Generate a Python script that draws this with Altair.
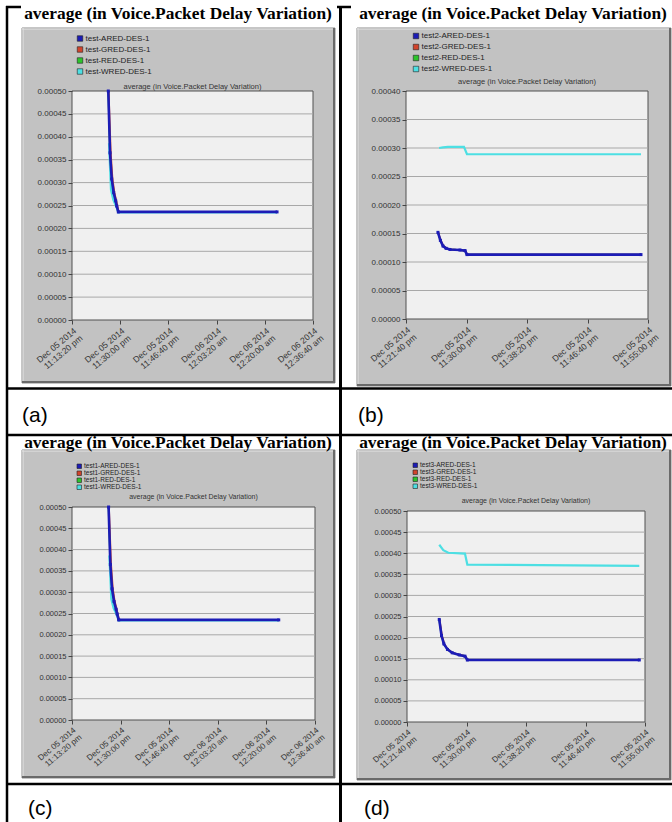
import altair as alt
import pandas as pd

W, H = 672, 822
SANS = "Liberation Sans"
SERIF = "Liberation Serif"

# ---------------- data ----------------
METHODS = ["ARED", "GRED", "RED", "WRED"]
COLORS = ["#1c1cb6", "#d2442c", "#2cc42c", "#4ddfe3"]
LINE_WIDTH = {"ARED": 2.6, "GRED": 1.8, "RED": 1.8, "WRED": 2.2}
DRAW_ORDER = ["WRED", "RED", "GRED", "ARED"]
MAIN_TITLE = "average (in Voice.Packet Delay Variation)"
SUB_TITLE = "average (in Voice.Packet Delay Variation)"
PANEL_LABELS = ["(a)", "(b)", "(c)", "(d)"]
PREFIXES = ["test", "test2", "test1", "test3"]

Y_TICKS_50 = [0.0, 0.00005, 0.0001, 0.00015, 0.0002, 0.00025, 0.0003, 0.00035, 0.0004, 0.00045, 0.0005]
Y_TICKS_40 = [0.0, 0.00005, 0.0001, 0.00015, 0.0002, 0.00025, 0.0003, 0.00035, 0.0004]
X_TICKS_LONG = ["23:13:20", "23:30:00", "23:46:40", "00:03:20", "00:20:00", "00:36:40"]
X_TICKS_SHORT = ["23:21:40", "23:30:00", "23:38:20", "23:46:40", "23:55:00"]

# panel (a)
a_t_ARED = ["23:25:53", "23:26:29", "23:27:04", "23:27:45", "23:28:27", "23:28:48", "23:29:21", "00:24:14"]
a_v_ARED = [0.000500, 0.000365, 0.000308, 0.000278, 0.000260, 0.000249, 0.000236, 0.000236]
a_t_GRED = ["23:26:00", "23:26:44", "23:27:20", "23:28:00", "23:28:40", "23:29:00", "23:29:30", "00:24:14"]
a_v_GRED = [0.000500, 0.000365, 0.000308, 0.000278, 0.000260, 0.000249, 0.000236, 0.000236]
a_t_RED = ["23:25:53", "23:26:29", "23:27:04", "23:27:45", "23:28:27", "23:28:48", "23:29:21", "00:24:14"]
a_v_RED = [0.000500, 0.000365, 0.000308, 0.000278, 0.000260, 0.000249, 0.000236, 0.000236]
a_t_WRED = ["23:26:08", "23:26:49", "23:27:37", "23:28:48", "23:29:21", "00:24:14"]
a_v_WRED = [0.000386, 0.000284, 0.000262, 0.000245, 0.000235, 0.000235]

# panel (b)
b_t_ARED = ["23:26:04", "23:26:24", "23:26:46", "23:27:11", "23:27:44", "23:29:06", "23:29:48", "23:30:04", "23:54:02"]
b_v_ARED = [0.000152, 0.000138, 0.000128, 0.000124, 0.000122, 0.000121, 0.000120, 0.000113, 0.000113]
b_t_GRED = ["23:26:06", "23:26:27", "23:26:49", "23:27:14", "23:27:47", "23:29:08", "23:29:50", "23:30:06", "23:54:02"]
b_v_GRED = [0.000152, 0.000138, 0.000128, 0.000124, 0.000122, 0.000121, 0.000120, 0.000113, 0.000113]
b_t_RED = ["23:26:04", "23:26:24", "23:26:46", "23:27:11", "23:27:44", "23:29:06", "23:29:48", "23:30:04", "23:54:02"]
b_v_RED = [0.000152, 0.000138, 0.000128, 0.000124, 0.000122, 0.000121, 0.000120, 0.000113, 0.000113]
b_t_WRED = ["23:26:13", "23:26:46", "23:27:27", "23:29:39", "23:30:04", "23:54:02"]
b_v_WRED = [0.000300, 0.000301, 0.000302, 0.000302, 0.000289, 0.000289]

# panel (c)
c_t_ARED = ["23:25:53", "23:26:29", "23:27:04", "23:27:45", "23:28:27", "23:28:48", "23:29:21", "00:24:14"]
c_v_ARED = [0.000500, 0.000365, 0.000308, 0.000278, 0.000260, 0.000249, 0.000235, 0.000235]
c_t_GRED = ["23:26:00", "23:26:44", "23:27:20", "23:28:00", "23:28:40", "23:29:00", "23:29:30", "00:24:14"]
c_v_GRED = [0.000500, 0.000365, 0.000308, 0.000278, 0.000260, 0.000249, 0.000235, 0.000235]
c_t_RED = ["23:25:53", "23:26:29", "23:27:04", "23:27:45", "23:28:27", "23:28:48", "23:29:21", "00:24:14"]
c_v_RED = [0.000500, 0.000365, 0.000308, 0.000278, 0.000260, 0.000249, 0.000235, 0.000235]
c_t_WRED = ["23:26:08", "23:26:49", "23:27:37", "23:28:48", "23:29:21", "00:24:14"]
c_v_WRED = [0.000386, 0.000284, 0.000262, 0.000245, 0.000234, 0.000234]

# panel (d)
d_t_ARED = ["23:26:11", "23:26:30", "23:26:50", "23:27:20", "23:28:00", "23:29:00", "23:29:47", "23:30:07", "23:54:12"]
d_v_ARED = [0.000243, 0.000205, 0.000185, 0.000172, 0.000164, 0.000159, 0.000156, 0.000147, 0.000147]
d_t_GRED = ["23:26:13", "23:26:33", "23:26:53", "23:27:23", "23:28:03", "23:29:02", "23:29:49", "23:30:09", "23:54:12"]
d_v_GRED = [0.000243, 0.000205, 0.000185, 0.000172, 0.000164, 0.000159, 0.000156, 0.000147, 0.000147]
d_t_RED = ["23:26:11", "23:26:30", "23:26:50", "23:27:20", "23:28:00", "23:29:00", "23:29:47", "23:30:07", "23:54:12"]
d_v_RED = [0.000243, 0.000205, 0.000185, 0.000172, 0.000164, 0.000159, 0.000156, 0.000147, 0.000147]
d_t_WRED = ["23:26:11", "23:26:45", "23:27:27", "23:29:47", "23:30:07", "23:54:12"]
d_v_WRED = [0.000420, 0.000407, 0.000401, 0.000399, 0.000373, 0.000370]

SERIES = [
    ({"ARED": a_t_ARED, "GRED": a_t_GRED, "RED": a_t_RED, "WRED": a_t_WRED},
     {"ARED": a_v_ARED, "GRED": a_v_GRED, "RED": a_v_RED, "WRED": a_v_WRED}),
    ({"ARED": b_t_ARED, "GRED": b_t_GRED, "RED": b_t_RED, "WRED": b_t_WRED},
     {"ARED": b_v_ARED, "GRED": b_v_GRED, "RED": b_v_RED, "WRED": b_v_WRED}),
    ({"ARED": c_t_ARED, "GRED": c_t_GRED, "RED": c_t_RED, "WRED": c_t_WRED},
     {"ARED": c_v_ARED, "GRED": c_v_GRED, "RED": c_v_RED, "WRED": c_v_WRED}),
    ({"ARED": d_t_ARED, "GRED": d_t_GRED, "RED": d_t_RED, "WRED": d_t_WRED},
     {"ARED": d_v_ARED, "GRED": d_v_GRED, "RED": d_v_RED, "WRED": d_v_WRED}),
]
X_TICKS = [X_TICKS_LONG, X_TICKS_SHORT, X_TICKS_LONG, X_TICKS_SHORT]
Y_TICKS = [Y_TICKS_50, Y_TICKS_40, Y_TICKS_50, Y_TICKS_50]

# ---------------- layout (pixels) ----------------
LAYOUT = [
    dict(x0=72, x1=313, yt=91, yb=320, box=(22, 28, 335, 383), tx=178, ty=18.5,
         lx=76, ly=34.5, lfs=8, lrow=3, lsym=30, sub_y=87, fs=8, xfs=8.6, lab=(22, 416)),
    dict(x0=406, x1=648, yt=91, yb=319, box=(357, 28, 671, 386), tx=513, ty=18.5,
         lx=412, ly=32, lfs=8, lrow=3, lsym=30, sub_y=82, fs=8, xfs=8.6, lab=(358, 416)),
    dict(x0=72, x1=315, yt=507, yb=720, box=(22, 450, 335, 778), tx=178, ty=448,
         lx=76, ly=463, lfs=6.5, lrow=-1.5, lsym=20, sub_y=497, fs=7.5, xfs=8.2, lab=(28, 809)),
    dict(x0=407, x1=645, yt=511, yb=722, box=(357, 450, 671, 780), tx=513, ty=448,
         lx=412, ly=462, lfs=6.5, lrow=-1.2, lsym=20, sub_y=501, fs=7.5, xfs=8.2, lab=(364, 809)),
]


def stamp(clock):
    day = "2014-12-06" if clock < "12" else "2014-12-05"
    return f"{day}T{clock}"


def dtobj(clock):
    t = pd.Timestamp(stamp(clock))
    return alt.DateTime(year=t.year, month=t.month, date=t.day,
                        hours=t.hour, minutes=t.minute, seconds=t.second)


ONE = pd.DataFrame({"k": [0]})


def rect(x, y, x2, y2, **kw):
    return alt.Chart(ONE).mark_rect(**kw).encode(
        x=alt.value(x), y=alt.value(y), x2=alt.value(x2), y2=alt.value(y2))


def hline(y, x, x2, **kw):
    return alt.Chart(ONE).mark_rule(**kw).encode(x=alt.value(x), x2=alt.value(x2), y=alt.value(y))


def vline(x, y, y2, **kw):
    return alt.Chart(ONE).mark_rule(**kw).encode(x=alt.value(x), y=alt.value(y), y2=alt.value(y2))


def label(x, y, s, **kw):
    return alt.Chart(ONE).mark_text(text=s, **kw).encode(x=alt.value(x), y=alt.value(y))


def make_panel(i):
    L = LAYOUT[i]
    times, vals = SERIES[i]
    names = [f"{PREFIXES[i]}-{m}-DES-1" for m in METHODS]
    rows = []
    for m, name in zip(METHODS, names):
        for t, v in zip(times[m], vals[m]):
            rows.append({"t": stamp(t), "v": v, "s": name, "m": m})
    df = pd.DataFrame(rows)
    xt = X_TICKS[i]
    yt = Y_TICKS[i]
    ymax = yt[-1]

    xsc = alt.Scale(domain=[dtobj(xt[0]), dtobj(xt[-1])], range=[L["x0"], L["x1"]], nice=False)
    ysc = alt.Scale(domain=[0, ymax], range=[L["yb"], L["yt"]], nice=False, zero=False)
    csc = alt.Scale(domain=names, range=COLORS)

    lh = L["xfs"] * 1.12
    dx, dy = lh * 0.643, lh * 0.766   # second label line, perpendicular to the rotated text
    common_x = dict(orient="bottom", values=[dtobj(c) for c in xt], labelAngle=320,
                    labelAlign="right", labelBaseline="top", labelFont=SANS,
                    labelFontSize=L["xfs"], labelColor="#333333", labelOverlap=False,
                    labelFlush=False, domain=False, grid=False, title=None, zindex=1,
                    offset=L["yb"] - H, tickSize=4)
    xaxis1 = alt.Axis(format="%b %d %Y", labelPadding=2, tickColor="#444444", **common_x)
    xaxis2 = alt.Axis(labelExpr="lower(timeFormat(datum.value, '%I:%M:%S %p'))",
                      labelPadding=2 + dy, labelOffset=dx,
                      tickColor="#444444", tickOpacity=0, **common_x)
    yaxis = alt.Axis(orient="left", offset=-L["x0"], values=yt, format=".5f",
                     labelFont=SANS, labelFontSize=L["fs"], labelColor="#333333",
                     labelPadding=2, labelOverlap=False, tickColor="#444444", tickSize=4,
                     domain=False, grid=False, title=None, zindex=1)

    frame = pd.DataFrame({"t0": [stamp(xt[0])], "t1": [stamp(xt[-1])], "v0": [0.0], "v1": [ymax]})
    bg = alt.Chart(frame).mark_rect(fill="#f0f0f0", stroke="#505050", strokeWidth=1).encode(
        x=alt.X("t0:T", scale=xsc, axis=None), x2=alt.X2("t1"),
        y=alt.Y("v0:Q", scale=ysc, axis=None), y2=alt.Y2("v1"))

    gdf = pd.DataFrame({"v": yt[1:-1]})
    gdf["t0"] = stamp(xt[0])
    gdf["t1"] = stamp(xt[-1])
    grid = alt.Chart(gdf).mark_rule(color="#a8a8a8", strokeWidth=1).encode(
        x=alt.X("t0:T", scale=xsc, axis=None), x2=alt.X2("t1"),
        y=alt.Y("v:Q", scale=ysc, axis=None))

    layers = [bg, grid]
    for j, m in enumerate(DRAW_ORDER):
        if j == 0:
            xa, ya = xaxis1, yaxis
        elif j == 1:
            xa, ya = xaxis2, None
        else:
            xa, ya = None, None
        layers.append(
            alt.Chart(df).transform_filter(alt.datum.m == m)
            .mark_line(strokeWidth=LINE_WIDTH[m])
            .encode(x=alt.X("t:T", scale=xsc, axis=xa),
                    y=alt.Y("v:Q", scale=ysc, axis=ya),
                    color=alt.Color("s:N", scale=csc, legend=None))
        )
    legend = alt.Legend(orient="none", legendX=L["lx"], legendY=L["ly"], title=None,
                        symbolType="square", symbolSize=L["lsym"], symbolStrokeColor="#222222",
                        symbolStrokeWidth=0.6, labelFont=SANS, labelFontSize=L["lfs"],
                        labelColor="#222222", labelOffset=1.5, rowPadding=L["lrow"], padding=0,
                        zindex=2)
    markers = (alt.Chart(df).transform_filter(alt.datum.m == "ARED")
               .mark_square(size=9, filled=True, opacity=1)
               .encode(x=alt.X("t:T", scale=xsc, axis=None),
                       y=alt.Y("v:Q", scale=ysc, axis=None),
                       color=alt.Color("s:N", scale=csc, legend=legend)))
    layers.append(markers)
    return layers


# ---------------- decorations ----------------
deco = []
deco.append(hline(7, 6, W, color="black", strokeWidth=2.5))
deco.append(rect(21, 0, 337, 27, color="white"))
deco.append(rect(351, 0, W, 27, color="white"))
for i, L in enumerate(LAYOUT):
    x, y, x2, y2 = L["box"]
    deco.append(rect(x, y, x2, y2, color="#c2c2c2", stroke="#8c8c8c", strokeWidth=1))
    deco.append(hline(y2 - 1, x, x2, color="#6a6a6a", strokeWidth=2))
    deco.append(vline(x2 - 1, y, y2, color="#6a6a6a", strokeWidth=2))
    deco.append(hline(y + 1, x, x2 - 2, color="#e4e4e4", strokeWidth=1))
    deco.append(vline(x + 1, y, y2 - 2, color="#e4e4e4", strokeWidth=1))
deco.append(vline(7, 6, H, color="black", strokeWidth=2.5))
deco.append(vline(340.5, 6, H, color="black", strokeWidth=3))
for yy in [388.5, 435, 784]:
    deco.append(hline(yy, 6, W, color="black", strokeWidth=2.5))

texts = []
for i, L in enumerate(LAYOUT):
    texts.append(label(L["tx"], L["ty"], MAIN_TITLE, font=SERIF, fontSize=17.4, fontWeight="bold",
                       color="black", align="center", baseline="alphabetic"))
    texts.append(label((L["x0"] + L["x1"]) / 2, L["sub_y"], SUB_TITLE, font=SANS, fontSize=L["fs"] - 0.5,
                       color="#333333", align="center", baseline="middle"))
    lx, ly = L["lab"]
    texts.append(label(lx, ly, PANEL_LABELS[i], font=SANS, fontSize=21, color="black",
                       align="left", baseline="middle"))

panel_layers = []
for i in range(4):
    panel_layers.extend(make_panel(i))

chart = (
    alt.layer(*deco, *texts, *panel_layers)
    .resolve_scale(x="independent", y="independent", color="independent")
    .resolve_axis(x="independent", y="independent")
    .resolve_legend(color="independent")
    .properties(width=W, height=H, autosize=alt.AutoSizeParams(type="none"), padding=0,
                background="white")
    .configure_view(strokeWidth=0)
)

chart.save("out.html", embed_options={"renderer": "svg", "actions": False})
